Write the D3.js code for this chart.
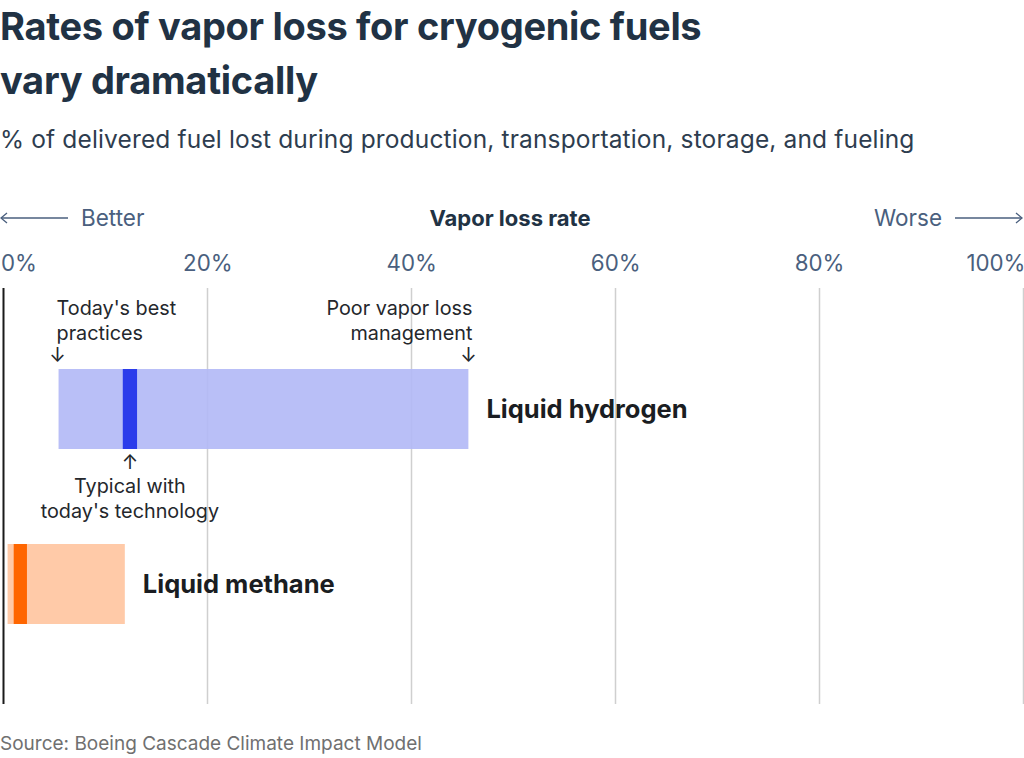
<!DOCTYPE html>
<html>
<head>
<meta charset="utf-8">
<script src="https://cdn.jsdelivr.net/npm/d3@7"></script>
<style>
  body { margin: 0; background: #fff; }
  svg { display: block; font-family: Inter, "Noto Sans", sans-serif; }
</style>
</head>
<body>
<svg id="chart" width="1024" height="758"></svg>
<script>
// data
var fuels = ["Liquid hydrogen", "Liquid methane"];
var bestPractice = [5.4, 0.4];     // low end of range
var poorManagement = [45.6, 11.9]; // high end of range
var typicalLow = [11.7, 1.0];
var typicalHigh = [13.1, 2.3];
var tickValues = [0, 20, 40, 60, 80, 100];

var lightColors = ["#b3baf6", "#ffcaa8"];
var darkColors = ["#2b3ceb", "#ff6600"];

var svg = d3.select("#chart");

var x = d3.scaleLinear().domain([0, 100]).range([3.5, 1023]);
var barH = 80;
var rowY = {"Liquid hydrogen": 369, "Liquid methane": 544};

// title
svg.append("text").attr("x", 0).attr("y", 40)
  .attr("font-size", 38).attr("font-weight", 700).attr("fill", "#213244")
  .attr("letter-spacing", -0.3)
  .text("Rates of vapor loss for cryogenic fuels");
svg.append("text").attr("x", 0).attr("y", 94)
  .attr("font-size", 38).attr("font-weight", 700).attr("fill", "#213244")
  .attr("letter-spacing", -0.3)
  .text("vary dramatically");
svg.append("text").attr("x", 0).attr("y", 148)
  .attr("font-size", 24.5).attr("fill", "#2e3d4f").attr("letter-spacing", 0.15)
  .text("% of delivered fuel lost during production, transportation, storage, and fueling");

// header row
svg.append("text").attr("x", 510).attr("y", 226).attr("text-anchor", "middle")
  .attr("font-size", 22).attr("font-weight", 700).attr("fill", "#213244")
  .text("Vapor loss rate");
svg.append("text").attr("x", 81).attr("y", 226)
  .attr("font-size", 22.5).attr("fill", "#4a5f7e").text("Better");
svg.append("text").attr("x", 942).attr("y", 226).attr("text-anchor", "end")
  .attr("font-size", 22.5).attr("fill", "#4a5f7e").text("Worse");

function arrow(x1, x2, yy) {
  svg.append("line").attr("x1", x1).attr("x2", x2).attr("y1", yy).attr("y2", yy)
    .attr("stroke", "#4a5f7e").attr("stroke-width", 1.3);
  var d = x2 > x1 ? -1 : 1;
  svg.append("path")
    .attr("d", "M" + (x2 + d * 6) + "," + (yy - 5) + "L" + x2 + "," + yy + "L" + (x2 + d * 6) + "," + (yy + 5))
    .attr("fill", "none").attr("stroke", "#4a5f7e").attr("stroke-width", 1.3);
}
arrow(68, 1, 218);
arrow(955, 1022, 218);

// axis on top
var axis = d3.axisTop(x).tickValues(tickValues).tickSize(0).tickFormat(function(d){ return d + "%"; });
var gAxis = svg.append("g").attr("transform", "translate(0,274)").call(axis);
gAxis.select(".domain").remove();
gAxis.selectAll("text")
  .attr("font-family", "Inter, 'Noto Sans', sans-serif")
  .attr("font-size", 22.3).attr("fill", "#4a5f7e").attr("dy", 0)
  .attr("text-anchor", function(d){ return d === 0 ? "start" : d === 100 ? "end" : "middle"; })
  .attr("dx", function(d){ return d === 0 ? -3 : d === 100 ? 2 : 0; });

// gridlines
svg.append("g").selectAll("line").data(tickValues.filter(function(d){ return d > 0; }))
  .join("line")
  .attr("x1", function(d){ return Math.round(x(d)) + 0.5; })
  .attr("x2", function(d){ return Math.round(x(d)) + 0.5; })
  .attr("y1", 288).attr("y2", 704)
  .attr("stroke", "#cfcfcf").attr("stroke-width", 1.5);

// bars
var bars = svg.append("g");
fuels.forEach(function(f, i) {
  bars.append("rect")
    .attr("x", x(bestPractice[i])).attr("y", rowY[f])
    .attr("width", x(poorManagement[i]) - x(bestPractice[i])).attr("height", barH)
    .attr("fill", lightColors[i]).attr("fill-opacity", i === 0 ? 0.92 : 1);
  bars.append("rect")
    .attr("x", x(typicalLow[i])).attr("y", rowY[f])
    .attr("width", x(typicalHigh[i]) - x(typicalLow[i])).attr("height", barH)
    .attr("fill", darkColors[i]);
  svg.append("text")
    .attr("x", x(poorManagement[i]) + 18).attr("y", rowY[f] + barH / 2 + 9)
    .attr("font-size", 25.5).attr("font-weight", 700).attr("fill", "#1a1d22")
    .text(f);
});

// zero line
svg.append("line").attr("x1", 3.5).attr("x2", 3.5).attr("y1", 288).attr("y2", 704)
  .attr("stroke", "#1a1a1a").attr("stroke-width", 2);

// annotations
var ann = svg.append("g").attr("font-size", 19.8).attr("fill", "#24272c");
ann.append("text").attr("x", x(bestPractice[0]) - 2).attr("y", 315).text("Today's best");
ann.append("text").attr("x", x(bestPractice[0]) - 2).attr("y", 340).text("practices");
ann.append("text").attr("x", x(bestPractice[0]) - 1).attr("y", 362).attr("text-anchor", "middle").text("↓");

ann.append("text").attr("x", x(poorManagement[0]) + 4).attr("y", 315).attr("text-anchor", "end").text("Poor vapor loss");
ann.append("text").attr("x", x(poorManagement[0]) + 4).attr("y", 340).attr("text-anchor", "end").text("management");
ann.append("text").attr("x", x(poorManagement[0])).attr("y", 362).attr("text-anchor", "middle").text("↓");

var tx = (x(typicalLow[0]) + x(typicalHigh[0])) / 2;
ann.append("text").attr("x", tx).attr("y", 469).attr("text-anchor", "middle").text("↑");
ann.append("text").attr("x", tx).attr("y", 493).attr("text-anchor", "middle").text("Typical with");
ann.append("text").attr("x", tx).attr("y", 518).attr("text-anchor", "middle").text("today's technology");

// source
svg.append("text").attr("x", 0).attr("y", 750)
  .attr("font-size", 19).attr("fill", "#707070")
  .text("Source: Boeing Cascade Climate Impact Model");
</script>
</body>
</html>
